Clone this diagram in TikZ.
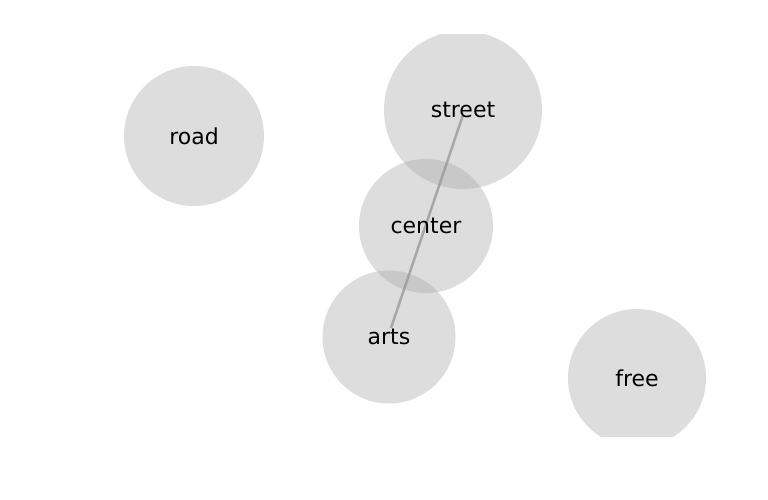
\documentclass[tikz,border=0pt]{standalone}
\usepackage{fontspec}
\setmainfont{DejaVu Sans}
\begin{document}
\begin{tikzpicture}[x=1pt,y=-1pt,
  bubble/.style={circle,fill={rgb,255:red,166;green,166;blue,166},fill opacity=0.38,draw=none,inner sep=0pt,minimum size=#1},
  lbl/.style={font=\fontsize{22}{26}\selectfont,text=black},
  link/.style={draw={rgb,255:red,150;green,150;blue,150},line width=2.5pt,opacity=0.75}]
\useasboundingbox (0,0) rectangle (768,500);
\fill[white] (0,0) rectangle (768,500);
\begin{scope}
\clip (0,35) rectangle (768,436);
\node[bubble=140pt] (road) at (194,136) {};
\node[bubble=158pt] (street) at (463,110) {};
\node[bubble=134pt] (center) at (426,226) {};
\node[bubble=133pt] (arts) at (389,337) {};
\node[bubble=138pt] (free) at (637,378) {};
\coordinate (sa) at (463,115);
\coordinate (aa) at (391,328);
\draw[link] (sa) -- (aa);
\end{scope}
\node[lbl] (roadl) at (road) {road};
\node[lbl] (streetl) at (street) {street};
\node[lbl] (centerl) at (center) {center};
\node[lbl] (artsl) at (arts) {arts};
\node[lbl] (freel) at (free) {free};
\end{tikzpicture}
\end{document}
